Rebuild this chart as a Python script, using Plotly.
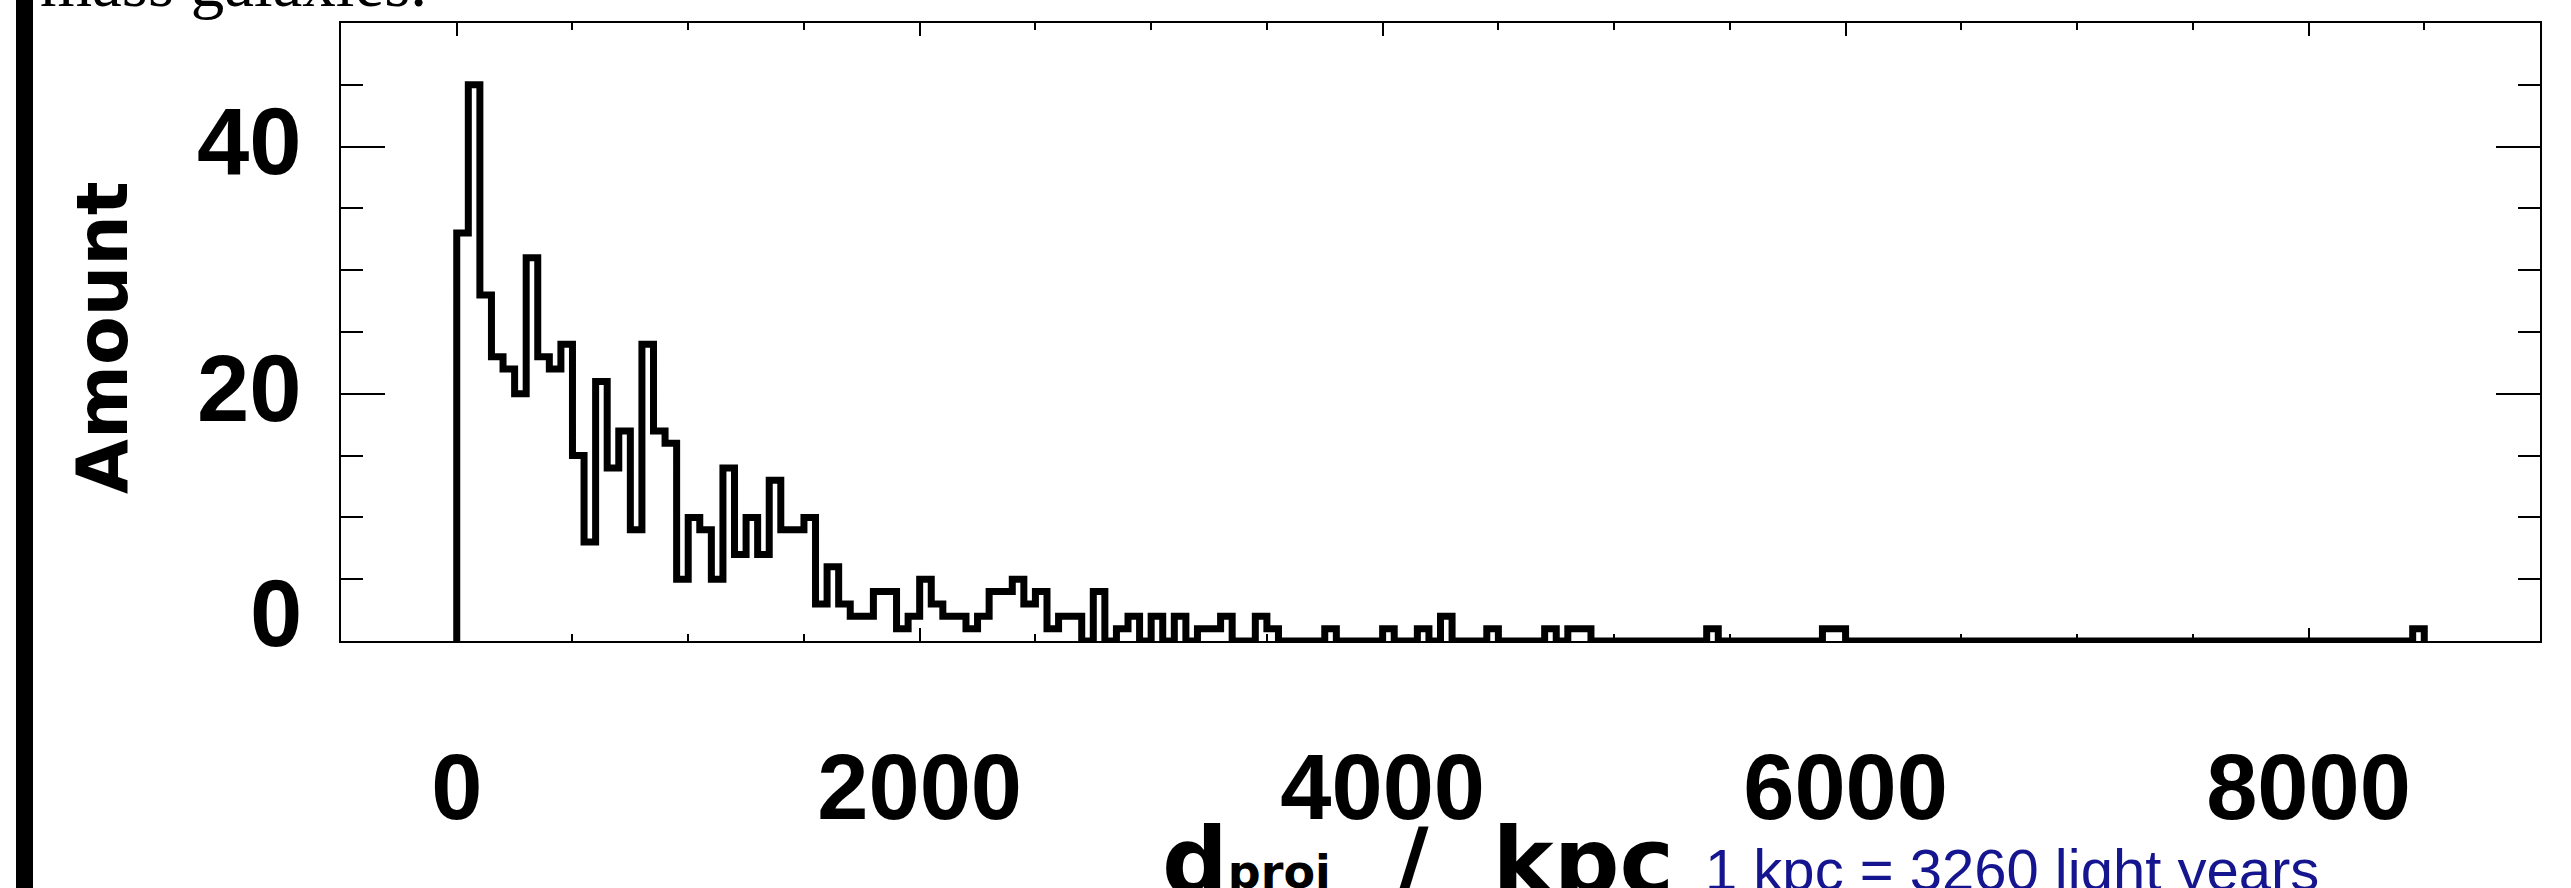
import plotly.graph_objects as go

# ---- data ----
bin_width = 50  # kpc
bin_left = list(range(0, 8500, 50))  # left edges of the 170 bins, kpc
counts = [
    33, 45, 28, 23, 22, 20, 31, 23, 22, 24,
    15, 8, 21, 14, 17, 9, 24, 17, 16, 5,
    10, 9, 5, 14, 7, 10, 7, 13, 9, 9,
    10, 3, 6, 3, 2, 2, 4, 4, 1, 2,
    5, 3, 2, 2, 1, 2, 4, 4, 5, 3,
    4, 1, 2, 2, 0, 4, 0, 1, 2, 0,
    2, 0, 2, 0, 1, 1, 2, 0, 0, 2,
    1, 0, 0, 0, 0, 1, 0, 0, 0, 0,
    1, 0, 0, 1, 0, 2, 0, 0, 0, 1,
    0, 0, 0, 0, 1, 0, 1, 1, 0, 0,
    0, 0, 0, 0, 0, 0, 0, 0, 1, 0,
    0, 0, 0, 0, 0, 0, 0, 0, 1, 1,
    0, 0, 0, 0, 0, 0, 0, 0, 0, 0,
    0, 0, 0, 0, 0, 0, 0, 0, 0, 0,
    0, 0, 0, 0, 0, 0, 0, 0, 0, 0,
    0, 0, 0, 0, 0, 0, 0, 0, 0, 0,
    0, 0, 0, 0, 0, 0, 0, 0, 0, 1,
]
x_ticks = [0, 2000, 4000, 6000, 8000]
x_tick_labels = ["0", "2000", "4000", "6000", "8000"]
y_ticks = [0, 20, 40]
y_tick_labels = ["0", "20", "40"]
y_label_pos = [2.2, 20.4, 40.4]   # centre of each y label (the "0" sits above the axis)
x_title = ("d<span style='font-size:46px;baseline-shift:6px'>proj</span>"
           "\u00a0\u00a0/\u00a0\u00a0kpc")
y_title = "Amount"
note_text = "1 kpc = 3260 light years"
top_text = "mass galaxies."

# step outline: start at baseline, walk bin tops, return to baseline
xs = [bin_left[0]] + bin_left + [bin_left[-1] + bin_width]
ys = [0] + counts + [0]

W, H = 2571, 888
L, R, T, B = 341, 31, 23, 247
pw, ph = W - L - R, H - T - B

def px(xpix):
    return (xpix - L) / pw

def py(ypix):
    return (H - B - ypix) / ph

fig = go.Figure()
fig.add_trace(go.Scatter(
    x=xs, y=ys, mode="lines", line=dict(shape="hv", color="black", width=7),
    hoverinfo="skip", showlegend=False, cliponaxis=False,
))

num_font = dict(family="Liberation Sans", size=94, color="black", weight="bold")

fig.update_layout(
    width=W, height=H, margin=dict(l=L, r=R, t=T, b=B, pad=0),
    paper_bgcolor="white", plot_bgcolor="white", showlegend=False,
    xaxis=dict(
        range=[-500, 9000], tickmode="array", tickvals=x_ticks, ticktext=x_tick_labels,
        ticks="inside", ticklen=13, tickwidth=2, tickcolor="black",
        minor=dict(ticks="inside", ticklen=7, tickwidth=2, tickcolor="black", dtick=500, tick0=0, showgrid=False),
        showline=True, linecolor="black", linewidth=2, mirror="ticks",
        showgrid=False, zeroline=False, tickfont=dict(num_font, size=92),
        ticklabelstandoff=66,
    ),
    yaxis=dict(
        range=[0, 50], tickmode="array", tickvals=y_ticks, showticklabels=False,
        ticks="inside", ticklen=44, tickwidth=2, tickcolor="black",
        minor=dict(ticks="inside", ticklen=22, tickwidth=2, tickcolor="black", dtick=5, tick0=0, showgrid=False),
        showline=True, linecolor="black", linewidth=2, mirror="ticks",
        showgrid=False, zeroline=False,
    ),
)

# y tick labels (placed on the y scale)
for lab, yv in zip(y_tick_labels, y_label_pos):
    fig.add_annotation(
        text=lab, xref="paper", yref="y", x=px(304), y=yv,
        showarrow=False, xanchor="right", yanchor="middle", font=num_font,
    )

# y-axis title
fig.add_annotation(
    text=y_title, xref="paper", yref="paper", x=px(102), y=py(338),
    textangle=-90, showarrow=False, xanchor="center", yanchor="middle",
    font=dict(family="DejaVu Sans", size=71, color="black", weight="bold"),
)
# x-axis title
fig.add_annotation(
    text=x_title, xref="paper", yref="paper", x=px(1418), y=py(862),
    showarrow=False, xanchor="center", yanchor="middle",
    font=dict(family="DejaVu Sans", size=92, color="black", weight="bold"),
)
# blue note
fig.add_annotation(
    text=note_text, xref="paper", yref="paper", x=px(1703), y=py(869),
    showarrow=False, xanchor="left", yanchor="middle",
    font=dict(family="Liberation Sans", size=58, color="#15158f"),
)
# clipped text from the page above
fig.add_annotation(
    text=top_text, xref="paper", yref="paper", x=px(38), y=py(22),
    showarrow=False, xanchor="left", yanchor="bottom",
    font=dict(family="Liberation Serif", size=67, color="black"),
)
# thick black bar at the left edge of the page
fig.add_shape(
    type="rect", xref="paper", yref="paper",
    x0=px(16), x1=px(33), y0=py(H + 20), y1=py(-20),
    fillcolor="black", line=dict(width=0), layer="above",
)

fig.write_html(
    "out.html",
    config={"displayModeBar": False},
    post_script="document.body.style.margin='0';document.body.style.overflow='hidden';",
)
